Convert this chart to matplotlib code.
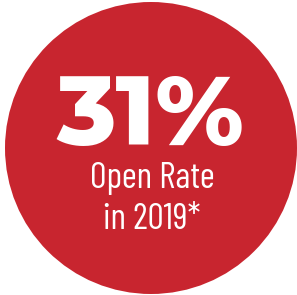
import matplotlib
matplotlib.use("Agg")
import matplotlib.pyplot as plt
from matplotlib.patches import Circle

value_label = "31%"
line1 = "Open Rate"
line2 = "in 2019*"

fig = plt.figure(figsize=(2.97, 2.95), dpi=100)
ax = fig.add_axes([0, 0, 1, 1])
ax.set_xlim(0, 297)
ax.set_ylim(295, 0)
ax.set_aspect("equal")
ax.axis("off")

ax.add_patch(Circle((151, 148), 146, color="#C8252F", lw=0))
ax.text(150, 145, value_label, ha="center", va="baseline", color="white",
        fontsize=71, fontfamily="Montserrat Alternates", fontweight=800)
ax.text(152, 188, line1, ha="center", va="baseline", color="white",
        fontsize=26, fontfamily="Barlow Condensed", fontweight=400)
ax.text(152, 229, line2, ha="center", va="baseline", color="white",
        fontsize=26, fontfamily="Barlow Condensed", fontweight=400)

fig.savefig("out.png", dpi=100, facecolor="white")
